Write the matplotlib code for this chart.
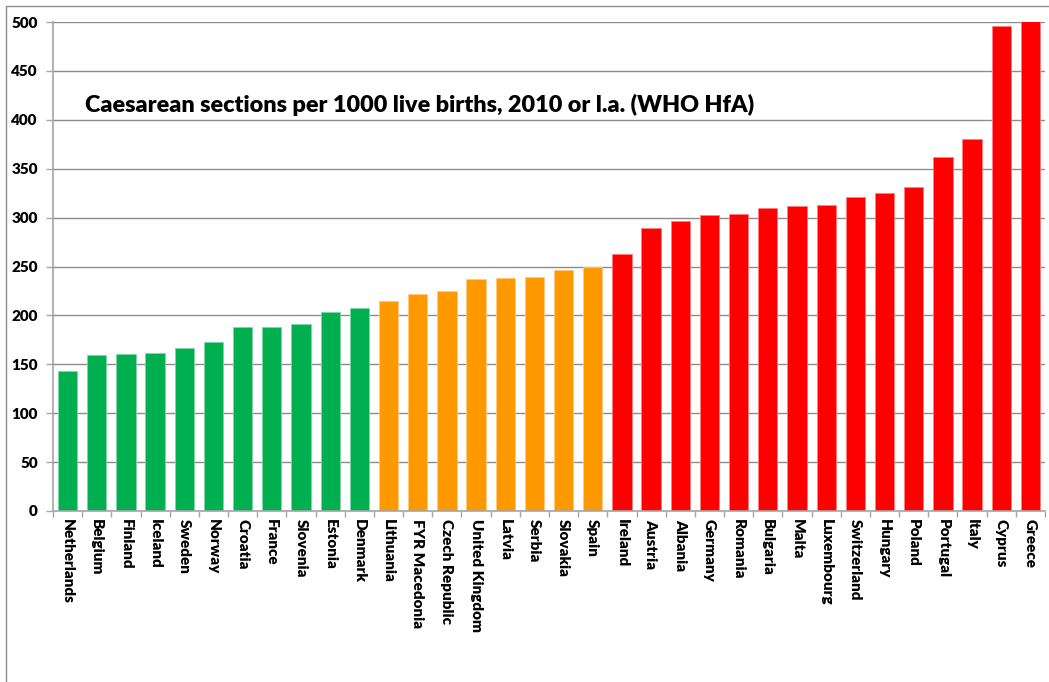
import numpy as np
import matplotlib.pyplot as plt
from matplotlib.patches import Rectangle

# Data
countries = [
    "Netherlands", "Belgium", "Finland", "Iceland", "Sweden", "Norway",
    "Croatia", "France", "Slovenia", "Estonia", "Denmark",
    "Lithuania", "FYR Macedonia", "Czech Republic", "United Kingdom",
    "Latvia", "Serbia", "Slovakia", "Spain",
    "Ireland", "Austria", "Albania", "Germany", "Romania", "Bulgaria",
    "Malta", "Luxembourg", "Switzerland", "Hungary", "Poland", "Portugal",
    "Italy", "Cyprus", "Greece",
]
values = [
    143, 160, 161, 162, 167, 173, 188, 188, 191, 203, 208,
    215, 222, 225, 237, 238, 239, 246, 250,
    263, 289, 297, 303, 304, 310, 312, 313, 321, 325, 331, 362,
    380, 496, 502,
]
groups = ["low"] * 11 + ["mid"] * 8 + ["high"] * 15
group_colors = {"low": "#00B050", "mid": "#FF9900", "high": "#FF0000"}
edge_colors = {"low": "#7FD7A7", "mid": "#FFC77F", "high": "#FF8080"}

title = "Caesarean sections per 1000 live births, 2010 or l.a. (WHO HfA)"

fig = plt.figure(figsize=(10.49, 6.82), dpi=100)
ax = fig.add_axes([53 / 1049, 171 / 682, 992 / 1049, 489 / 682])

# outer chart border
fig.patches.append(Rectangle((6 / 1049, -0.1), 1.2, (682 - 6) / 682 + 0.1,
                             transform=fig.transFigure, fill=False,
                             edgecolor="#8C8C8C", linewidth=1.0))

x = np.arange(len(countries))
ax.bar(x, values, width=0.66,
       color=[group_colors[g] for g in groups],
       edgecolor=[edge_colors[g] for g in groups], linewidth=0.6, zorder=2)

ax.set_xlim(-0.5, len(countries) - 0.5)
ax.set_ylim(0, 500)
ax.set_yticks(np.arange(0, 501, 50))
ax.yaxis.grid(True, color="#8C8C8C", linewidth=1.0, zorder=0)
ax.set_axisbelow(True)

for s in ["top", "right"]:
    ax.spines[s].set_visible(False)
ax.spines["left"].set_color("#A6A6A6")
ax.spines["bottom"].set_color("#A6A6A6")
ax.spines["left"].set_linewidth(1.2)
ax.spines["bottom"].set_linewidth(1.2)

ax.set_xticks(x)
ax.set_xticklabels(countries, rotation=-90, fontsize=11, fontweight="heavy",
                   family="Lato", va="top", ha="center")
ax.set_xticks(np.arange(-0.5, len(countries), 1), minor=True)
ax.tick_params(axis="x", which="major", length=0, pad=6)
ax.tick_params(axis="x", which="minor", length=4, color="#A6A6A6", width=1)
ax.tick_params(axis="y", length=5, color="#A6A6A6", width=1, pad=6)
for lbl in ax.get_yticklabels():
    lbl.set_fontweight("heavy")
    lbl.set_family("Lato")
    lbl.set_fontsize(11)

ax.text(0.032, 0.83, title, transform=ax.transAxes, fontsize=16.8,
        fontweight="heavy", family="Lato", ha="left", va="center", zorder=3)

fig.savefig("out.png", dpi=100)
